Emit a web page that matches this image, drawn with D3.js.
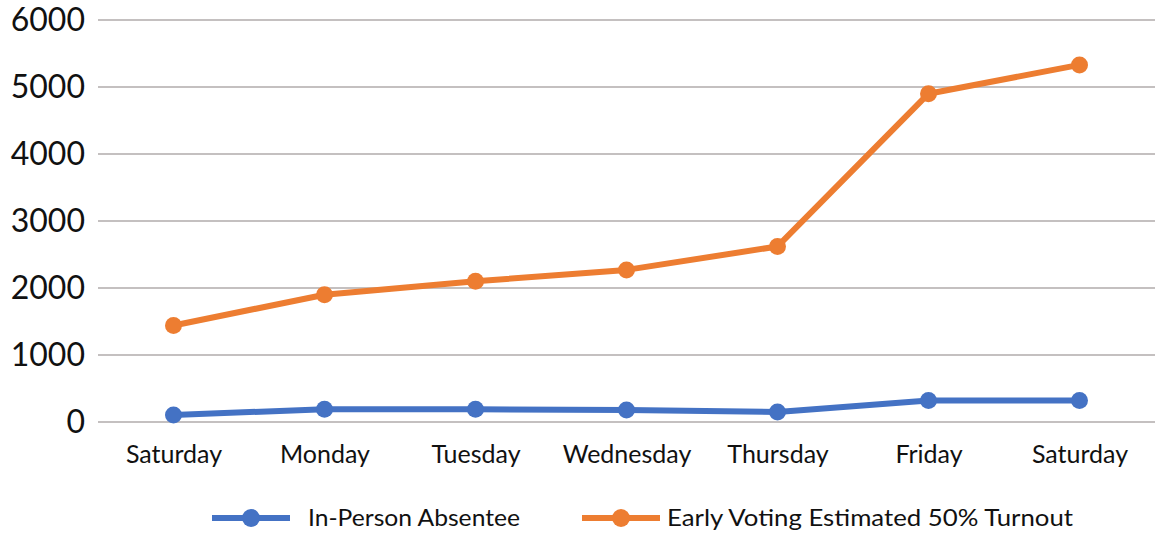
<!DOCTYPE html>
<html>
<head>
<meta charset="utf-8">
<script src="https://cdn.jsdelivr.net/npm/d3@7"></script>
<style>
  body { margin: 0; background: #fff; }
  svg { font-family: Lato, "Noto Sans", sans-serif; }
</style>
</head>
<body>
<svg id="chart" width="1166" height="534"></svg>
<script>
const days = ['Saturday', 'Monday', 'Tuesday', 'Wednesday', 'Thursday', 'Friday', 'Saturday'];
const absentee = [105, 190, 190, 180, 150, 320, 320];
const earlyVoting = [1440, 1900, 2100, 2270, 2620, 4900, 5330];
const yTicks = [0, 1000, 2000, 3000, 4000, 5000, 6000];
const seriesNames = ['In-Person Absentee', 'Early Voting Estimated 50% Turnout'];
const colors = ['#4472C4', '#ED7D31'];

const svg = d3.select('#chart');
const plotLeft = 98, plotRight = 1155, plotTop = 20, plotBottom = 422;

const x = d3.scalePoint()
  .domain(d3.range(days.length))
  .range([plotLeft, plotRight])
  .padding(0.5);

const y = d3.scaleLinear()
  .domain([0, 6000])
  .range([plotBottom, plotTop]);

// gridlines
svg.append('g')
  .selectAll('line')
  .data(yTicks)
  .join('line')
  .attr('x1', plotLeft)
  .attr('x2', plotRight)
  .attr('y1', d => y(d))
  .attr('y2', d => y(d))
  .attr('stroke', '#c4c0c0')
  .attr('stroke-width', 2);

// y axis labels
const yAxis = svg.append('g')
  .attr('transform', `translate(${plotLeft}, 0)`)
  .call(d3.axisLeft(y).tickValues(yTicks).tickFormat(d3.format('d')).tickSize(0).tickPadding(13));
yAxis.select('.domain').remove();
yAxis.selectAll('text')
  .attr('font-size', 32)
  .attr('font-family', 'Lato, sans-serif')
  .attr('fill', '#111');

// x axis labels
const xAxis = svg.append('g')
  .attr('transform', `translate(0, ${plotBottom})`)
  .call(d3.axisBottom(x).tickFormat(i => days[i]).tickSize(0).tickPadding(23));
xAxis.select('.domain').remove();
xAxis.selectAll('text')
  .attr('font-size', 25)
  .attr('font-family', 'Lato, sans-serif')
  .attr('fill', '#111');

const line = d3.line()
  .x((d, i) => x(i))
  .y(d => y(d));

[absentee, earlyVoting].forEach((vals, k) => {
  const g = svg.append('g');
  g.append('path')
    .datum(vals)
    .attr('fill', 'none')
    .attr('stroke', colors[k])
    .attr('stroke-width', 6)
    .attr('stroke-linejoin', 'round')
    .attr('d', line);
  g.selectAll('circle')
    .data(vals)
    .join('circle')
    .attr('cx', (d, i) => x(i))
    .attr('cy', d => y(d))
    .attr('r', 8.5)
    .attr('fill', colors[k]);
});

// legend
const legendItems = [
  { x1: 212, x2: 290, tx: 308, w: 212 },
  { x1: 582, x2: 660, tx: 667, w: 406 }
];
legendItems.forEach((it, k) => {
  const g = svg.append('g');
  g.append('line')
    .attr('x1', it.x1).attr('x2', it.x2)
    .attr('y1', 518).attr('y2', 518)
    .attr('stroke', colors[k])
    .attr('stroke-width', 6);
  g.append('circle')
    .attr('cx', (it.x1 + it.x2) / 2)
    .attr('cy', 518)
    .attr('r', 9)
    .attr('fill', colors[k]);
  g.append('text')
    .attr('x', it.tx)
    .attr('y', 526)
    .attr('font-size', 23)
    .attr('fill', '#111')
    .attr('textLength', it.w)
    .attr('lengthAdjust', 'spacingAndGlyphs')
    .text(seriesNames[k]);
});
</script>
</body>
</html>
